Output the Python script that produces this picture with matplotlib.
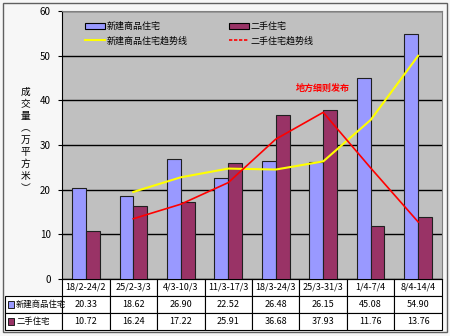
import matplotlib
matplotlib.use('Agg')
import matplotlib.pyplot as plt
from matplotlib.patches import Rectangle
from matplotlib.lines import Line2D
import numpy as np

plt.rcParams['font.family'] = ['Noto Sans CJK SC', 'DejaVu Sans']

weeks = ['18/2-24/2', '25/2-3/3', '4/3-10/3', '11/3-17/3',
         '18/3-24/3', '25/3-31/3', '1/4-7/4', '8/4-14/4']
new_homes = [20.33, 18.62, 26.90, 22.52, 26.48, 26.15, 45.08, 54.90]
resale = [10.72, 16.24, 17.22, 25.91, 36.68, 37.93, 11.76, 13.76]
# two-week moving averages, starting from the second week
new_trend = [19.48, 22.76, 24.71, 24.50, 26.32, 35.62, 49.99]
resale_trend = [13.48, 16.73, 21.57, 31.30, 37.31, 24.85, 12.76]

names = ['新建商品住宅', '二手住宅', '新建商品住宅趋势线', '二手住宅趋势线']
note = '地方细则发布'
ylabel = '成交量︵万平方米︶'

c_new = '#9999FF'
c_old = '#993366'

fig = plt.figure(figsize=(4.5, 3.36), dpi=100, facecolor='#F7F7F7')
fig.patches.append(Rectangle((0.006, 0.012), 0.988, 0.978, transform=fig.transFigure,
                             fill=False, ec='#606060', lw=1))
ax = fig.add_axes([0.138, 0.170, 0.844, 0.797])
ax.set_facecolor('#C0C0C0')

x = np.arange(len(weeks))
w = 0.29
ax.bar(x - w / 2, new_homes, w, color=c_new, edgecolor='#202020', lw=0.8, zorder=3)
ax.bar(x + w / 2, resale, w, color=c_old, edgecolor='#202020', lw=0.8, zorder=3)
ax.plot(x[1:], new_trend, color='#FFFF00', lw=1.5, zorder=4)
ax.plot(x[1:], resale_trend, color='#FF0000', lw=1.2, zorder=4)

ax.text(5, 42.8, note, color='#FF0000', fontsize=6.5, fontweight='bold',
        ha='center', va='center', zorder=5)

ax.set_xlim(-0.5, len(weeks) - 0.5)
ax.set_ylim(0, 60)
ax.set_yticks(range(0, 61, 10))
ax.tick_params(axis='y', labelsize=7, length=3, pad=5)
ax.set_xticks([])
ax.yaxis.grid(True, color='black', lw=1, zorder=1)
ax.set_axisbelow(True)
for side in ['top', 'right']:
    ax.spines[side].set_color('#808080')
ax.spines['left'].set_color('black')
ax.spines['bottom'].set_color('black')

fig.text(0.056, 0.583, '\n'.join(ylabel), fontsize=7, ha='center', va='center',
         linespacing=1.25)

leg_handles = [Rectangle((0, 0), 1, 1, fc=c_new, ec='black', lw=0.8),
               Line2D([], [], color='#FFFF00', lw=1.5),
               Rectangle((0, 0), 1, 1, fc=c_old, ec='black', lw=0.8),
               Line2D([], [], color='#FF0000', lw=1.2, ls=(0, (2, 1)))]
leg_labels = [names[0], names[2], names[1], names[3]]
ax.legend(leg_handles, leg_labels, ncol=2, loc='upper left', bbox_to_anchor=(0.04, 0.99),
          frameon=False, fontsize=6.5, handlelength=2.2, handleheight=0.8,
          handletextpad=0.2, columnspacing=4.5, labelspacing=0.6)

# data table under the plot; the row-name column is filled in separately
cell_text = [[''] + weeks,
             [''] + ['%.2f' % v for v in new_homes],
             [''] + ['%.2f' % v for v in resale]]
first_w = 57 / 437
col_w = [first_w] + [(1 - first_w) / len(weeks)] * len(weeks)
tbl = ax.table(cellText=cell_text, colWidths=col_w, cellLoc='center',
               bbox=[-57 / 380, -51 / 268, 437 / 380, 51 / 268])
tbl.auto_set_font_size(False)
tbl.set_fontsize(6.5)
for (r, c), cell in tbl.get_celld().items():
    cell.set_facecolor('white')
    cell.set_linewidth(0.8)
    if r == 0 and c == 0:
        cell.visible_edges = ''
        cell.set_facecolor('none')

for i, (col, name) in enumerate([(c_new, names[0]), (c_old, names[1])]):
    yc = -(25.5 + 17 * i) / 268
    ax.add_patch(Rectangle((-54 / 380, yc - 3.5 / 268), 6 / 380, 7 / 268,
                           transform=ax.transAxes, fc=col, ec='#202020', lw=0.7,
                           clip_on=False, zorder=6))
    ax.text(-46 / 380, yc, name, transform=ax.transAxes, fontsize=6,
            ha='left', va='center', zorder=6)

fig.savefig('out.png', dpi=100, facecolor=fig.get_facecolor())
